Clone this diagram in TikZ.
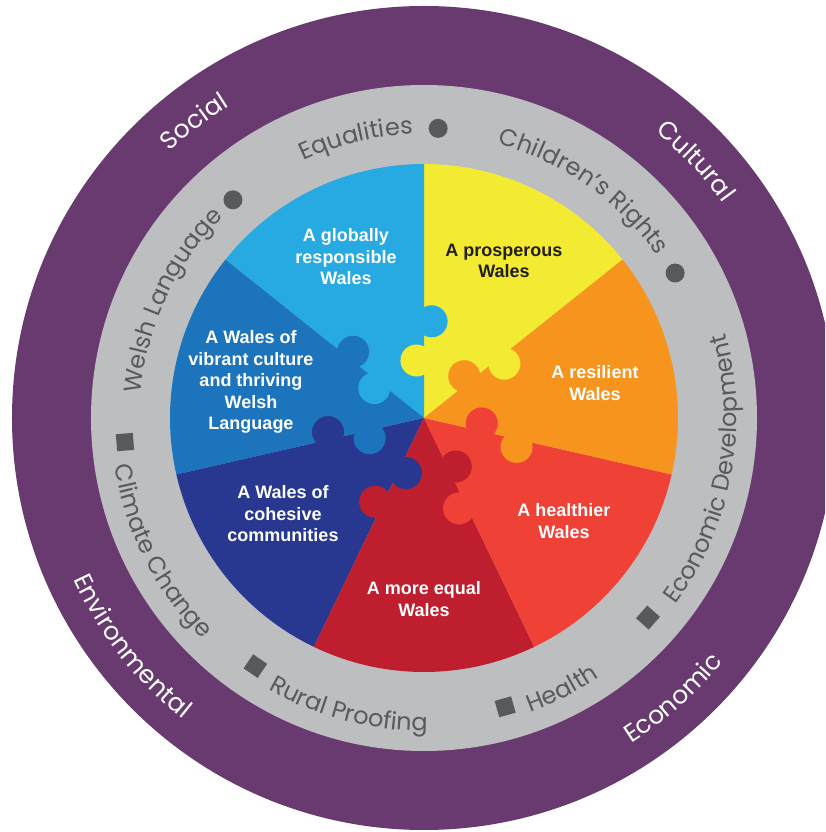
\documentclass[tikz,border=0pt]{standalone}
\usepackage{fontspec}
\setmainfont{Liberation Sans}
\newfontfamily\ringfont{Poppins}
\usetikzlibrary{decorations.text}

\definecolor{ringpurple}{RGB}{104,58,111}
\definecolor{ringgray}{RGB}{188,190,192}
\definecolor{ringtext}{RGB}{88,89,91}
\definecolor{wyellow}{RGB}{243,234,50}
\definecolor{worange}{RGB}{247,148,30}
\definecolor{wred}{RGB}{239,65,54}
\definecolor{wdred}{RGB}{190,30,45}
\definecolor{wdblue}{RGB}{40,56,145}
\definecolor{wmblue}{RGB}{28,117,188}
\definecolor{wlblue}{RGB}{39,170,225}
\definecolor{wblack}{RGB}{35,31,32}

\begin{document}
\begin{tikzpicture}[x=1pt, y=1pt,
    wlabel/.style={align=center, text=white, font=\bfseries\fontsize{18}{21.5}\selectfont},
    dotmark/.style={circle, fill=ringtext, minimum size=19pt, inner sep=0pt},
    sqmark/.style={rectangle, fill=ringtext, minimum size=17pt, inner sep=0pt},
    graytext/.style={decorate, decoration={text along path, text align=center,
        text color=ringtext, text={|\ringfont\fontsize{24}{24}\selectfont|#1}}},
    purpletext/.style={decorate, decoration={text along path, text align=center,
        text color=white, text={|\ringfont\fontsize{25}{25}\selectfont|#1}}}]
    \clip (-424,-414) rectangle (401,418);

    % outer rings
    \fill[ringpurple] (0,0) circle[radius=412];
    \fill[ringgray] (0,0) circle[radius=333];

    % seven wedges
    \foreach \i/\col in {0/wyellow, 1/wlblue, 2/wmblue, 3/wdblue, 4/wdred, 5/wred, 6/worange}
        \fill[\col] (0,0) -- ({38.57+51.43*\i}:254)
            arc[start angle={38.57+51.43*\i}, delta angle=51.43, radius=254] -- cycle;

    % puzzle knobs on each border
    \foreach \j/\lo/\up in {0/wyellow/wlblue, 1/wlblue/wmblue, 2/wmblue/wdblue,
            3/wdblue/wdred, 4/wdred/wred, 5/wred/worange, 6/worange/wyellow} {
        \fill[\lo] ({90+51.43*\j+7.5}:58) circle[radius=16];
        \fill[\up] ({90+51.43*\j-4.5}:97) circle[radius=16];
    }

    % wedge labels
    \node[wlabel] (global) at (-78,161) {A globally\\responsible\\Wales};
    \node[wlabel, text=wblack] (prosper) at (80,157) {A prosperous\\Wales};
    \node[wlabel] (resilient) at (171,35) {A resilient\\Wales};
    \node[wlabel] (healthy) at (140,-103) {A healthier\\Wales};
    \node[wlabel] (equal) at (0,-181) {A more equal\\Wales};
    \node[wlabel] (cohesive) at (-141,-96) {A Wales of\\cohesive\\communities};
    \node[wlabel] (culture) at (-173,36) {A Wales of\\vibrant culture\\and thriving\\Welsh\\Language};

    % gray ring: top half (clockwise)
    \path[graytext=Welsh Language] ({155+40}:284) arc[start angle={155+40}, delta angle=-80, radius=284];
    \path[graytext=Equalities] ({103.7+40}:284) arc[start angle={103.7+40}, delta angle=-80, radius=284];
    \path[graytext=Children’s Rights] ({54.9+40}:284) arc[start angle={54.9+40}, delta angle=-80, radius=284];
    \node[dotmark] (dotwelsh) at (131.2:290) {};
    \node[dotmark] (dotequal) at (87.2:290) {};
    \node[dotmark] (dotchild) at (30:290) {};

    % gray ring: bottom half (anticlockwise)
    \path[graytext=Climate Change] ({206.9-40}:313) arc[start angle={206.9-40}, delta angle=80, radius=313];
    \path[graytext=Rural Proofing] ({-104.6-40}:313) arc[start angle={-104.6-40}, delta angle=80, radius=313];
    \path[graytext=Health] ({-63-40}:313) arc[start angle={-63-40}, delta angle=80, radius=313];
    \path[graytext=Economic Development] ({-10.5-40}:313) arc[start angle={-10.5-40}, delta angle=80, radius=313];
    \node[sqmark, rotate=184.6] (sqclimate) at (184.6:300) {};
    \node[sqmark, rotate=-124.2] (sqrural) at (-124.2:300) {};
    \node[sqmark, rotate=-74.3] (sqhealth) at (-74.3:300) {};
    \node[sqmark, rotate=-41.7] (sqecon) at (-41.7:300) {};

    % purple ring
    \path[purpletext=Social] ({127.8+30}:368) arc[start angle={127.8+30}, delta angle=-60, radius=368];
    \path[purpletext=Cultural] ({43.4+30}:368) arc[start angle={43.4+30}, delta angle=-60, radius=368];
    \path[purpletext=Economic] ({-48.4-30}:386) arc[start angle={-48.4-30}, delta angle=60, radius=386];
    \path[purpletext=Environmental] ({218-30}:386) arc[start angle={218-30}, delta angle=60, radius=386];
\end{tikzpicture}
\end{document}
